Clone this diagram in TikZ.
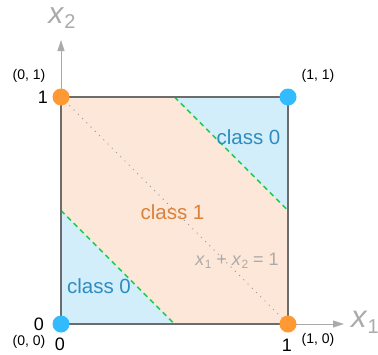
\documentclass[tikz,border=0pt]{standalone}
\usepackage{fontspec}
\setmainfont{Liberation Sans}
\usetikzlibrary{arrows.meta}
\definecolor{orfill}{HTML}{FDE7D8}
\definecolor{blfill}{HTML}{D2EEFA}
\definecolor{ordot}{HTML}{FF9933}
\definecolor{bldot}{HTML}{33BBFF}
\definecolor{bltext}{HTML}{2E8DC0}
\definecolor{ortext}{HTML}{D9823C}
\definecolor{grn}{HTML}{22CC55}
\definecolor{axgray}{HTML}{AAAAAA}
\tikzset{
  dotnode/.style={circle,inner sep=0pt,minimum size=17pt},
  coordlab/.style={font=\fontsize{14}{16}\selectfont,inner sep=0pt},
  ticklab/.style={font=\fontsize{18}{20}\selectfont,inner sep=0pt},
  classlab/.style={font=\fontsize{20.5}{23}\selectfont,inner sep=0pt},
  axis/.style={axgray,line width=0.8pt,-{Triangle[length=11pt,width=7pt]}},
  boundary/.style={grn,line width=1.6pt,dash pattern=on 5pt off 4pt},
}
\begin{document}
\begin{tikzpicture}[x=1pt,y=-1pt]
\useasboundingbox (0,0) rectangle (378,354);
\coordinate (O) at (61,324);
\coordinate (A) at (288,324);
\coordinate (B) at (61,97);
\coordinate (C) at (288,97);
\coordinate (xend) at (344,324);
\coordinate (yend) at (61,40);
% regions
\fill[orfill] (O) rectangle (C);
\fill[blfill] (61,210.5) -- (O) -- (174.5,324) -- cycle;
\fill[blfill] (174.5,97) -- (C) -- (288,210.5) -- cycle;
% dotted line
\draw[axgray!90!black,line width=1pt,dash pattern=on 1pt off 5pt] (B) -- (A);
% boundaries
\draw[boundary] (61,210.5) -- (174.5,324);
\draw[boundary] (174.5,97) -- (288,210.5);
% axes
\draw[axis] (O) -- (xend);
\draw[axis] (B) -- (yend);
% square
\draw[gray!85!black,line width=1.1pt] (O) rectangle (C);
% dots
\node[dotnode,fill=bldot] (p00) at (O) {};
\node[dotnode,fill=ordot] (p10) at (A) {};
\node[dotnode,fill=ordot] (p01) at (B) {};
\node[dotnode,fill=bldot] (p11) at (C) {};
% axis labels
\node[text=axgray,font=\fontsize{31}{34}\selectfont,inner sep=0pt] (lx1) at (365,322) {\textit{x}\raisebox{-0.35ex}{\fontsize{20}{22}\selectfont 1}};
\node[text=axgray,font=\fontsize{30}{33}\selectfont,inner sep=0pt] (lx2) at (62,18) {\textit{x}\raisebox{-0.35ex}{\fontsize{20}{22}\selectfont 2}};
% coordinate labels
\node[coordlab] (l01) at (29,76) {(0, 1)};
\node[coordlab] (l11) at (318,76) {(1, 1)};
\node[coordlab] (l00) at (29,342) {(0, 0)};
\node[coordlab] (l10) at (318,340) {(1, 0)};
% ticks
\node[ticklab] (t1y) at (43,97) {1};
\node[ticklab] (t0y) at (39,324) {0};
\node[ticklab] (t0x) at (60,344.5) {0};
\node[ticklab] (t1x) at (287,345) {1};
% class labels
\node[classlab,text=bltext] (c0a) at (248.5,137) {class 0};
\node[classlab,text=ortext] (c1) at (172.5,212) {class 1};
\node[classlab,text=bltext] (c0b) at (99,286) {class 0};
\node[text=axgray,font=\fontsize{18}{20}\selectfont,inner sep=0pt] (eq) at (237,261) {\textit{x}\raisebox{-0.35ex}{\fontsize{12}{14}\selectfont 1} + \textit{x}\raisebox{-0.35ex}{\fontsize{12}{14}\selectfont 2} = 1};
\end{tikzpicture}
\end{document}
